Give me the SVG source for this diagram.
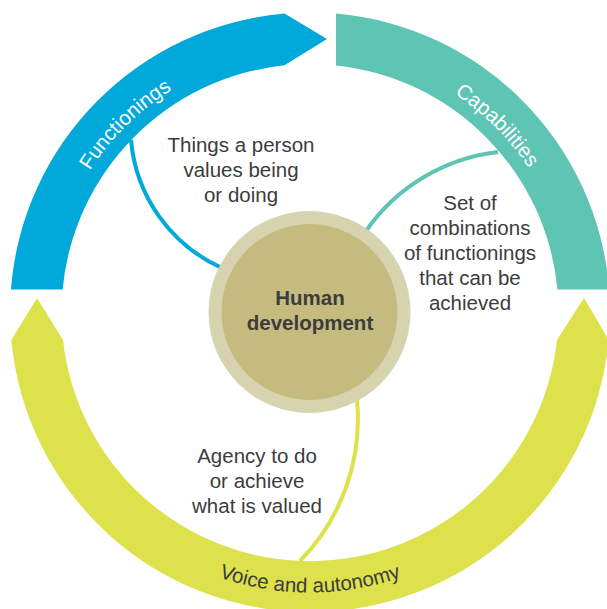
<svg xmlns="http://www.w3.org/2000/svg" width="607" height="609" viewBox="0 0 607 609">
<style>
.lbl{font-family:"Liberation Sans",Arial,sans-serif;font-size:20.5px;fill:#3c3c3c;text-anchor:middle}
.arc{font-family:"Liberation Sans",Arial,sans-serif;font-size:20.5px;text-anchor:middle}
.conn{fill:none;stroke-width:4}
</style>
<defs>
<path id="pFun" d="M 56.4 378.1 A 262 262 0 0 1 380 60"/>
<path id="pCap" d="M 242.2 59.4 A 262 262 0 0 1 563.1 380.3"/>
<path id="pVoi" d="M 67.5 452.5 A 280 280 0 0 0 552.5 452.5"/>
</defs>
<rect width="607" height="609" fill="#ffffff"/>
<g id="functionings">
<path d="M 10.9 289.5 A 300 300 0 0 1 284.5 13.6 L 327 39 L 284.5 65.3 A 248.5 248.5 0 0 0 62.6 289.5 Z" fill="#00a9da"/>
<text class="arc" fill="#ffffff"><textPath href="#pFun" startOffset="50%">Functionings</textPath></text>
<text class="lbl"><tspan x="241" y="152">Things a person</tspan><tspan x="241" y="177">values being</tspan><tspan x="241" y="202">or doing</tspan></text>
</g>
<g id="capabilities">
<path d="M 336 13.6 A 300 300 0 0 1 609.1 289.5 L 557.4 289.5 A 248.5 248.5 0 0 0 336 65.4 Z" fill="#5ec4b3"/>
<text class="arc" fill="#ffffff"><textPath href="#pCap" startOffset="50%">Capabilities</textPath></text>
<text class="lbl"><tspan x="470" y="210">Set of</tspan><tspan x="470" y="235">combinations</tspan><tspan x="470" y="260">of functionings</tspan><tspan x="470" y="285">that can be</tspan><tspan x="470" y="310">achieved</tspan></text>
</g>
<g id="voice">
<path d="M 37 298 L 63 340 A 248.5 248.5 0 0 0 557 340 L 584 298 L 608.7 340 A 300 300 0 0 1 11.3 340 Z" fill="#dce14c"/>
<text class="arc" fill="#3c3c3c"><textPath href="#pVoi" startOffset="50%">Voice and autonomy</textPath></text>
<text class="lbl"><tspan x="257" y="463">Agency to do</tspan><tspan x="257" y="488">or achieve</tspan><tspan x="257" y="513">what is valued</tspan></text>
</g>
<g id="connectors">
<path class="conn" stroke="#00a9da" d="M 131 140 A 155 155 0 0 0 222 268"/>
<path class="conn" stroke="#5ec4b3" d="M 498 152 A 187 187 0 0 0 366 231"/>
<path class="conn" stroke="#dce14c" stroke-width="3.5" d="M 357 400 A 203 203 0 0 1 300 561"/>
</g>
<g id="human-development">
<circle cx="309.5" cy="312" r="101" fill="#d7d3af"/>
<circle cx="309.5" cy="312" r="88" fill="#c5bb7f"/>
<text class="lbl" font-weight="bold" fill="#404040"><tspan x="310" y="305">Human</tspan><tspan x="310" y="330">development</tspan></text>
</g>
</svg>
